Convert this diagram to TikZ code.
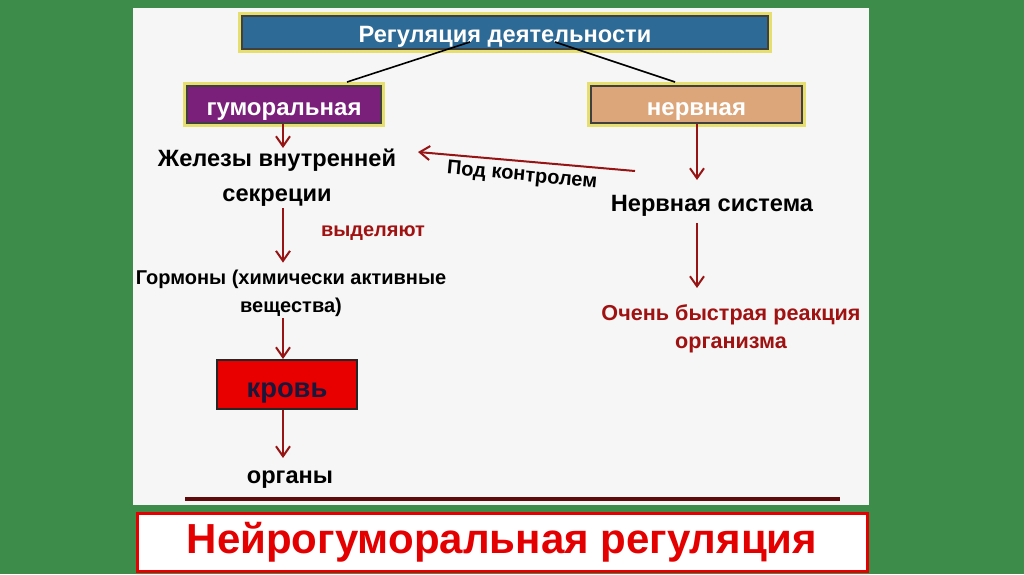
\documentclass[tikz,border=0pt]{standalone}
\usepackage{fontspec}
\setmainfont{Liberation Sans}
\usepackage{tikz}
\usetikzlibrary{arrows.meta,positioning}

\definecolor{slidegreen}{RGB}{62,140,74}
\definecolor{panelgray}{RGB}{246,246,246}
\definecolor{rimgold}{RGB}{230,222,110}
\definecolor{topblue}{RGB}{46,106,150}
\definecolor{humpurple}{RGB}{122,32,122}
\definecolor{nervtan}{RGB}{220,166,122}
\definecolor{bloodred}{RGB}{232,0,0}
\definecolor{arrowred}{RGB}{150,20,20}
\definecolor{textred}{RGB}{160,18,18}
\definecolor{titlered}{RGB}{228,0,0}
\definecolor{navytext}{RGB}{24,24,60}

\begin{document}
\begin{tikzpicture}[x=0.5pt, y=-0.5pt,
  rimbox/.style={preaction={draw=rimgold, line width=4pt}, draw=black!75,
    line width=0.6pt, inner sep=0pt, text=white, text height=12pt, text depth=1.5pt,
    font=\bfseries\fontsize{12}{14}\selectfont},
  plain/.style={align=center, font=\bfseries\fontsize{11.8}{17.5}\selectfont},
  arr/.style={arrowred, line width=1pt, -{Straight Barb[length=5pt, width=7pt]}},
  link/.style={black, line width=0.8pt}]
  \useasboundingbox (0,0) rectangle (1024,574);

  % --- background and panel ---
  \fill[slidegreen] (0,0) rectangle (1024,574);
  \fill[panelgray] (133,8) rectangle (869,505);
  \draw[textred!60!black, line width=1.6pt] (185,499) -- (840,499);

  % --- boxes ---
  \node[rimbox, fill=topblue, minimum width=263pt, minimum height=16.5pt,
    text height=11pt, font=\bfseries\fontsize{11.8}{14}\selectfont]
    (regbox) at (505,32.5) {Регуляция деятельности};
  \node[rimbox, fill=humpurple, minimum width=97pt, minimum height=18.5pt]
    (humoral) at (284,104.5) {гуморальная};
  \node[rimbox, fill=nervtan, minimum width=105.5pt, minimum height=18.5pt]
    (nervous) at (696.5,104.5) {нервная};

  % --- links from the top box ---
  \coordinate (regL) at (470,42);
  \coordinate (regR) at (555,42);
  \coordinate (humIn) at (347,82);
  \coordinate (nervIn) at (675,82);
  \draw[link] (regL) -- (humIn);
  \draw[link] (regR) -- (nervIn);

  % --- humoral column ---
  \node[plain] (glands) at (277,178) {Железы внутренней\\секреции};
  \node[font=\bfseries\fontsize{10}{12}\selectfont, text=textred] (secrete) at (373,233) {выделяют};
  \node[plain, font=\bfseries\fontsize{10}{14}\selectfont] (hormones) at (291,293)
    {Гормоны (химически активные\\вещества)};
  \node[draw=black!85, line width=1pt, fill=bloodred, minimum width=70pt, minimum height=24.5pt,
    inner sep=0pt, text height=14pt, text depth=1.5pt, text=navytext,
    font=\bfseries\fontsize{13.7}{16}\selectfont]
    (blood) at (287,384.5) {кровь};
  \node[plain] (organs) at (290,480) {органы};

  \draw[arr] (humoral.south -| 283,0) -- (283,148);
  \draw[arr] (283,208) -- (hormones.north -| 283,0);
  \draw[arr] (283,318) -- (blood.north -| 283,0);
  \draw[arr] (blood.south -| 283,0) -- (283,458);

  % --- nervous column ---
  \node[plain] (nervsys) at (712,206) {Нервная система};
  \node[plain, text=textred, font=\bfseries\fontsize{10.8}{14}\selectfont]
    (reaction) at (731,329) {Очень быстрая реакция\\организма};
  \draw[arr] (nervous.south -| 697,0) -- (697,180);
  \draw[arr] (697,223) -- (697,288);

  % --- control arrow ---
  \coordinate (ctlFrom) at (635,171);
  \coordinate (ctlTo) at (418,152);
  \draw[arr] (ctlFrom) -- (ctlTo);
  \node[font=\bfseries\fontsize{10}{12}\selectfont, rotate=-5.3] (ctllabel) at (522,176) {Под контролем};

  % --- title ---
  \node[draw=titlered, line width=1.5pt, fill=white, minimum width=365pt, minimum height=29pt,
    inner sep=0pt, text=titlered, font=\bfseries\fontsize{21}{24}\selectfont]
    (title) at (502,542) {Нейрогуморальная регуляция};
\end{tikzpicture}
\end{document}
